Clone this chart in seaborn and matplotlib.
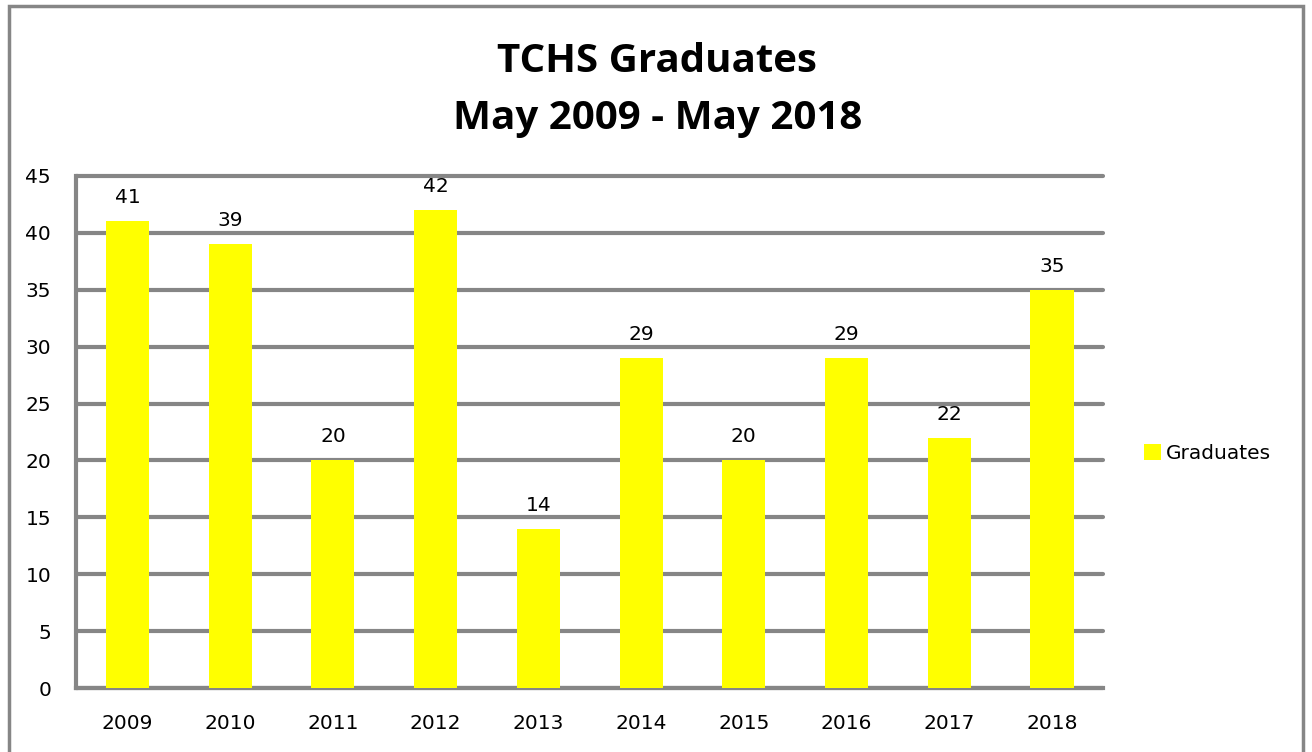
import matplotlib
matplotlib.use('Agg')
import matplotlib.pyplot as plt
import seaborn as sns
import pandas as pd
from matplotlib.patches import Rectangle, Patch

years = ['2009', '2010', '2011', '2012', '2013', '2014', '2015', '2016', '2017', '2018']
graduates = [41, 39, 20, 42, 14, 29, 20, 29, 22, 35]
y_ticks = [0, 5, 10, 15, 20, 25, 30, 35, 40, 45]

BAR_COLOR = '#FFFF00'
GRID_GRAY = '#868686'
FS = 14.5

df = pd.DataFrame({'year': years, 'graduates': graduates})

sns.set_style('white')
plt.rcParams['font.family'] = ['DejaVu Sans']
plt.rcParams['text.color'] = 'black'
plt.rcParams['xtick.color'] = 'black'
plt.rcParams['ytick.color'] = 'black'

fig = plt.figure(figsize=(13.12, 7.52), dpi=100)
ax = fig.add_axes([0.058, 0.085, 0.783, 0.681])

sns.barplot(data=df, x='year', y='graduates', color=BAR_COLOR, width=0.42,
            saturation=1, linewidth=0, ax=ax, zorder=3)

ax.set_ylim(0, 45)
ax.set_xlim(-0.5, len(years) - 0.5)
ax.set_yticks(y_ticks)
ax.yaxis.grid(True, color=GRID_GRAY, linewidth=3, zorder=0)
ax.set_axisbelow(True)
for gl in ax.get_ygridlines():
    gl.set_clip_on(False)

for s in ['top', 'right']:
    ax.spines[s].set_visible(False)
for s in ['left', 'bottom']:
    ax.spines[s].set_color(GRID_GRAY)
    ax.spines[s].set_linewidth(3)

# x ticks sit on the category boundaries
ax.set_xticks([i + 0.5 for i in range(-1, len(years))], minor=True)
ax.tick_params(axis='x', which='minor', length=7, width=3, color=GRID_GRAY, direction='out')
ax.tick_params(axis='x', which='major', length=0, labelsize=FS, pad=19)
ax.tick_params(axis='y', length=7, width=3, color=GRID_GRAY, direction='out',
               labelsize=FS, pad=11)
ax.set_xlabel('')
ax.set_ylabel('')

for i, v in enumerate(graduates):
    ax.annotate(str(v), (i, v), textcoords='offset points', xytext=(0, 13),
                ha='center', va='baseline', fontsize=FS)

fig.text(0.501, 0.904, 'TCHS Graduates', ha='center', va='baseline',
         fontsize=29, fontweight='bold', family='Open Sans')
fig.text(0.501, 0.8285, 'May 2009 - May 2018', ha='center', va='baseline',
         fontsize=29, fontweight='bold', family='Open Sans')

handle = Patch(facecolor=BAR_COLOR, edgecolor='none', label='Graduates')
fig.legend(handles=[handle], loc='center left', bbox_to_anchor=(0.872, 0.397),
           frameon=False, fontsize=FS, handlelength=0.85, handleheight=0.85,
           handletextpad=0.25, borderpad=0, borderaxespad=0)

# outer chart border (bottom edge runs off the picture)
fig.patches.append(Rectangle((0.0065, -0.05), 0.987, 1.042, transform=fig.transFigure,
                             fill=False, edgecolor=GRID_GRAY, linewidth=2.5))

fig.savefig('out.png', dpi=100)
